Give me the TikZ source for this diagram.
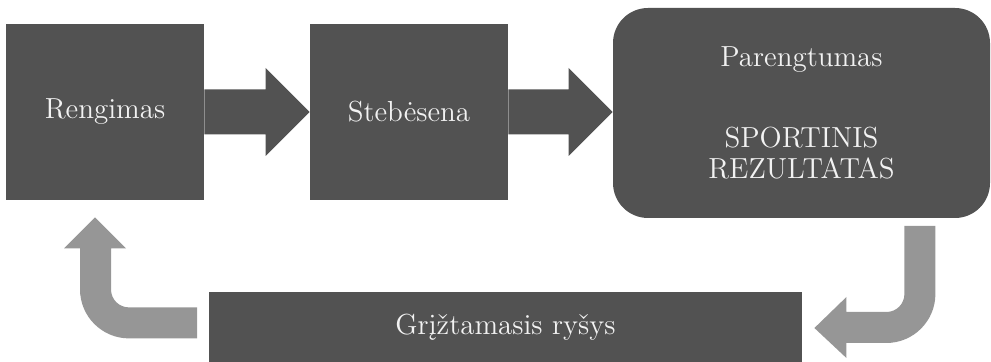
\documentclass[tikz,border=0pt]{standalone}
\usepackage{fontspec}
\usetikzlibrary{calc}
\definecolor{boxgray}{HTML}{525252}
\definecolor{loopgray}{HTML}{969696}
\definecolor{boxtext}{HTML}{F2F2F2}
\tikzset{
x=0.5pt, y=-0.5pt,
stage/.style={rectangle, fill=boxgray, text=boxtext, inner sep=0pt,
  minimum width=99pt, minimum height=88pt},
result/.style={stage, rounded corners=17.5pt, align=center,
  minimum width=188.5pt, minimum height=105pt},
feedback/.style={stage, minimum width=296.5pt, minimum height=35pt},
flow/.style={fill=boxgray},
loop/.style={fill=loopgray},
}

\begin{document}
\begin{tikzpicture}[font=\fontsize{14.5}{15.5}\selectfont]
\useasboundingbox (0,0) rectangle (991,362);

\node[stage] (rengimas) at (105,112) {Rengimas};
\node[stage] (stebesena) at (409,112) {Stebėsena};
\node[result] (parengtumas) at (801.5,113)
  {Parengtumas\\[25pt]SPORTINIS\\REZULTATAS};
\node[feedback] (griztamasis) at (505.5,327) {Grįžtamasis ryšys};

% block arrows between the stages
\foreach \a/\b in {rengimas/stebesena, stebesena/parengtumas}
  \fill[flow] ($(\a.east)+(0,-22.5)$) -- ($(\b.west |- \a.east)+(-44,-22.5)$)
    -- ($(\b.west |- \a.east)+(-44,-44)$) -- (\b.west |- \a.east)
    -- ($(\b.west |- \a.east)+(-44,44)$) -- ($(\b.west |- \a.east)+(-44,22.5)$)
    -- ($(\a.east)+(0,22.5)$) -- cycle;

% bent arrows of the feedback loop
\coordinate (fbtip) at ($(griztamasis.east)+(12,1)$);
\coordinate (backtip) at ($(rengimas.south)+(-10,17)$);

\begin{scope}[shift={(fbtip)}]
\fill[loop] (90,-102) -- (121,-102) -- (121,-34)
  .. controls (121,-7) and (99,15) .. (72,15) -- (32,15) -- (32,30)
  -- (0,0) -- (32,-31) -- (32,-16) -- (72,-16)
  .. controls (82,-16) and (90,-24) .. (90,-34) -- cycle;
\end{scope}

\begin{scope}[shift={(backtip)}]
\fill[loop] (102,90) -- (34,90) .. controls (24,90) and (16,82) .. (16,72)
  -- (16,31) -- (31,31) -- (0,0) -- (-31,31) -- (-15,31) -- (-15,72)
  .. controls (-15,99) and (7,121) .. (34,121) -- (102,121) -- cycle;
\end{scope}
\end{tikzpicture}
\end{document}
